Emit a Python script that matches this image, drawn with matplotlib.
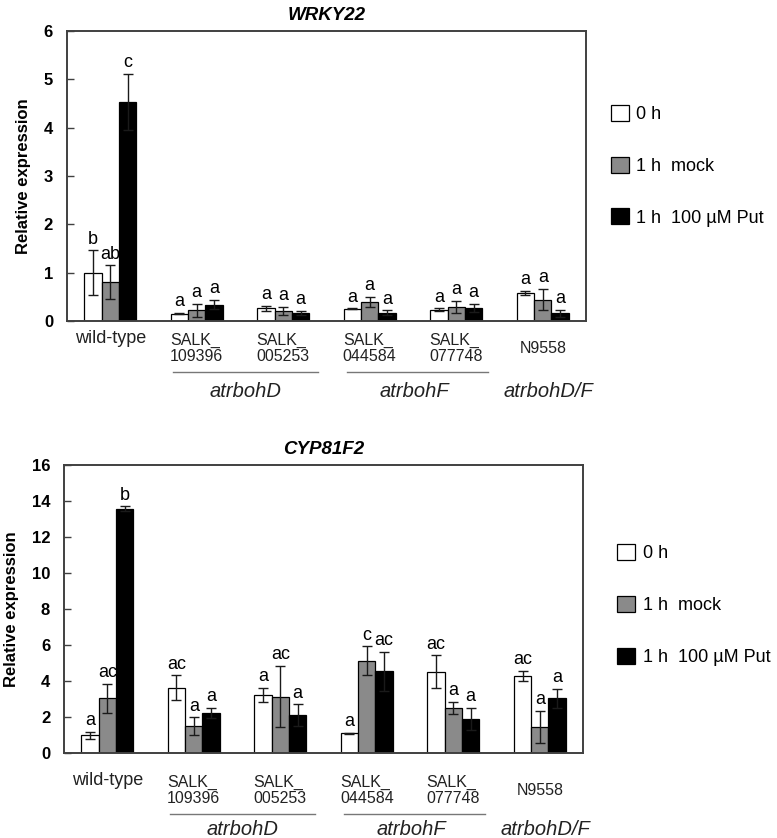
#!/usr/bin/env python3

import numpy as np
import matplotlib
matplotlib.use('Agg')
import matplotlib.pyplot as plt
import matplotlib.transforms as mtransforms

plt.rcParams['font.family'] = ['Liberation Sans', 'DejaVu Sans']

lines = ['wild-type', 'SALK_\n109396', 'SALK_\n005253', 'SALK_\n044584', 'SALK_\n077748', 'N9558']
treatments = ['0 h', '1 h  mock', '1 h  100 µM Put']
colours = ['white', '#8a8a8a', 'black']
genotypes = ['atrbohD', 'atrbohF', 'atrbohD/F']

# WRKY22
wrky_mean = [[1.00, 0.15, 0.26, 0.25, 0.23, 0.58],
             [0.80, 0.22, 0.21, 0.39, 0.29, 0.44],
             [4.53, 0.34, 0.17, 0.17, 0.27, 0.16]]
wrky_err = [[0.46, 0.01, 0.05, 0.01, 0.03, 0.05],
            [0.35, 0.14, 0.08, 0.10, 0.12, 0.22],
            [0.58, 0.10, 0.04, 0.05, 0.09, 0.07]]
wrky_letters = [['b', 'a', 'a', 'a', 'a', 'a'],
                ['ab', 'a', 'a', 'a', 'a', 'a'],
                ['c', 'a', 'a', 'a', 'a', 'a']]

# CYP81F2
cyp_mean = [[0.98, 3.64, 3.23, 1.09, 4.51, 4.29],
            [3.05, 1.48, 3.12, 5.12, 2.51, 1.44],
            [13.56, 2.23, 2.10, 4.54, 1.90, 3.03]]
cyp_err = [[0.18, 0.67, 0.37, 0.05, 0.92, 0.29],
           [0.80, 0.50, 1.70, 0.80, 0.33, 0.90],
           [0.14, 0.26, 0.60, 1.07, 0.60, 0.55]]
cyp_letters = [['a', 'ac', 'a', 'a', 'ac', 'ac'],
               ['ac', 'a', 'ac', 'c', 'a', 'a'],
               ['b', 'a', 'a', 'ac', 'a', 'a']]


def panel(ax, title, means, errs, letters, ymax, ystep, lab_off, leg_anchor):
	x = np.arange(len(lines))
	w = 0.2
	handles = []
	for i in range(3):
		xs = x + (i - 1) * w
		b = ax.bar(xs, means[i], w, color=colours[i], edgecolor='black',
				   linewidth=0.9, label=treatments[i], zorder=2)
		handles.append(b)
		ax.errorbar(xs, means[i], yerr=errs[i], fmt='none', ecolor='#1a1a1a',
					elinewidth=1.0, capsize=3.6, capthick=1.0, zorder=3)
		for xi, m, e, t in zip(xs, means[i], errs[i], letters[i]):
			ax.annotate(t, (xi, m + e), xytext=(0, 2), textcoords='offset points',
						ha='center', va='bottom', fontsize=13)

	ax.set_xlim(-0.5, len(lines) - 0.5)
	ax.set_ylim(0, ymax)
	ax.set_yticks(np.arange(0, ymax + 0.1, ystep))
	ax.set_xticks([])
	ax.tick_params(axis='y', direction='in', length=5, width=1, pad=10,
				   labelsize=12, color='#404040')
	for lb in ax.get_yticklabels():
		lb.set_fontweight('bold')
	for s in ax.spines.values():
		s.set_color('#404040')
		s.set_linewidth(1.4)
	ax.set_ylabel('Relative expression', fontsize=12, fontweight='bold', labelpad=9)
	ax.set_title(title, fontsize=13.5, fontweight='bold', style='italic', pad=8)

	# line labels under axis
	wt_off, salk_off, line_off, gen_off = lab_off
	for xi, name in zip(x, lines):
		if name == 'wild-type':
			off, fs = wt_off, 13
		else:
			off, fs = salk_off, 11.5
		ax.annotate(name, (xi, 0), xycoords=('data', 'axes fraction'),
					xytext=(0, off), textcoords='offset points', ha='center',
					va='center', fontsize=fs, color='#222222',
					multialignment='left', linespacing=1.1)

	trans = mtransforms.offset_copy(
		mtransforms.blended_transform_factory(ax.transData, ax.transAxes),
		fig=ax.figure, y=line_off, units='points')
	ax.plot([0.72, 2.40], [0, 0], color='#777777', lw=1, transform=trans, clip_on=False)
	ax.plot([2.74, 4.37], [0, 0], color='#777777', lw=1, transform=trans, clip_on=False)

	for gx, g in zip([1.56, 3.52, 5.06], genotypes):
		ax.annotate(g, (gx, 0), xycoords=('data', 'axes fraction'),
					xytext=(0, gen_off), textcoords='offset points', ha='center',
					va='center', fontsize=14.5, style='italic', color='#222222')

	ax.legend(handles=handles, loc='upper left', bbox_to_anchor=leg_anchor,
			  frameon=False, fontsize=13, handlelength=1.0, handleheight=1.0,
			  handletextpad=0.4, labelspacing=1.85, borderpad=0, borderaxespad=0)


def main():
	fig = plt.figure(figsize=(7.77, 8.38), dpi=100)
	ax1 = fig.add_axes([0.0862, 0.617, 0.668, 0.346])
	ax2 = fig.add_axes([0.0824, 0.1014, 0.668, 0.3437])

	panel(ax1, 'WRKY22', wrky_mean, wrky_err, wrky_letters, 6, 1,
		  (-12.5, -19.5, -37, -51), (1.048, 0.745))
	panel(ax2, 'CYP81F2', cyp_mean, cyp_err, cyp_letters, 16, 2,
		  (-19.5, -27, -44, -55), (1.066, 0.725))

	fig.savefig('out.png', dpi=100)


if __name__ == '__main__':
	main()
